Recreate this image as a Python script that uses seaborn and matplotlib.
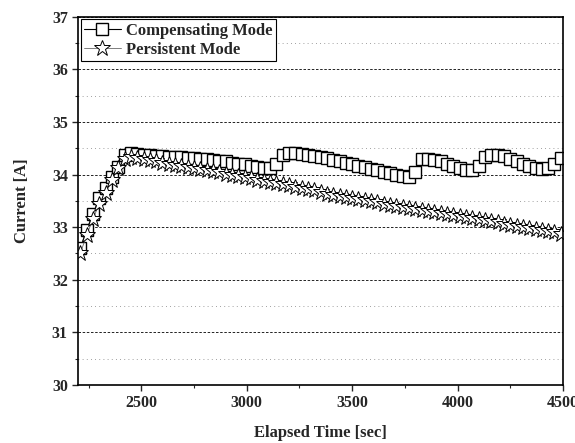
import matplotlib
matplotlib.use("Agg")
import matplotlib.pyplot as plt
import seaborn as sns
from matplotlib.ticker import MultipleLocator

# Dados
time_s = [2210, 2240, 2270, 2300, 2330, 2360, 2390, 2420, 2450, 2480,
          2510, 2540, 2570, 2600, 2630, 2660, 2690, 2720, 2750, 2780,
          2810, 2840, 2870, 2900, 2930, 2960, 2990, 3020, 3050, 3080,
          3110, 3140, 3170, 3200, 3230, 3260, 3290, 3320, 3350, 3380,
          3410, 3440, 3470, 3500, 3530, 3560, 3590, 3620, 3650, 3680,
          3710, 3740, 3770, 3800, 3830, 3860, 3890, 3920, 3950, 3980,
          4010, 4040, 4070, 4100, 4130, 4160, 4190, 4220, 4250, 4280,
          4310, 4340, 4370, 4400, 4430, 4460, 4490]

compensating = [32.6, 32.95, 33.25, 33.55, 33.75, 33.95, 34.15, 34.38, 34.42, 34.4,
                34.38, 34.37, 34.36, 34.35, 34.34, 34.33, 34.33, 34.32, 34.31, 34.3,
                34.29, 34.28, 34.26, 34.25, 34.23, 34.21, 34.2, 34.17, 34.15, 34.13,
                34.12, 34.2, 34.38, 34.42, 34.41, 34.4, 34.38, 34.36, 34.33, 34.31,
                34.28, 34.25, 34.23, 34.2, 34.17, 34.14, 34.11, 34.08, 34.05, 34.03,
                34.0, 33.97, 33.95, 34.05, 34.3, 34.3, 34.28, 34.25, 34.21, 34.17,
                34.13, 34.09, 34.08, 34.17, 34.33, 34.38, 34.38, 34.35, 34.3, 34.26,
                34.21, 34.17, 34.13, 34.1, 34.12, 34.2, 34.32]

persistent = [32.5, 32.85, 33.15, 33.45, 33.65, 33.9, 34.12, 34.3, 34.33, 34.31,
              34.29, 34.27, 34.25, 34.23, 34.21, 34.19, 34.17, 34.15, 34.13, 34.11,
              34.09, 34.07, 34.05, 34.02, 34.0, 33.97, 33.95, 33.93, 33.9, 33.88,
              33.86, 33.84, 33.82, 33.8, 33.77, 33.74, 33.72, 33.7, 33.67, 33.64,
              33.62, 33.6, 33.57, 33.55, 33.53, 33.51, 33.49, 33.47, 33.45, 33.43,
              33.41, 33.39, 33.37, 33.35, 33.32, 33.3, 33.28, 33.27, 33.25, 33.23,
              33.21, 33.19, 33.17, 33.15, 33.13, 33.11, 33.09, 33.07, 33.05, 33.03,
              33.01, 32.99, 32.97, 32.95, 32.93, 32.9, 32.88]

x_ticks = [2500, 3000, 3500, 4000, 4500]
y_ticks = [30, 31, 32, 33, 34, 35, 36, 37]

# Configurações iniciais
sns.set_style("ticks")
plt.rcParams["font.family"] = ["Liberation Serif", "DejaVu Serif"]
plt.rcParams["font.weight"] = "bold"

fig = plt.figure(figsize=(5.75, 4.43), dpi=100)
ax = fig.add_axes([0.136, 0.131, 0.843, 0.831])

sns.lineplot(x=time_s, y=compensating, ax=ax, color="black", linewidth=0.8,
             marker="s", markersize=9, markerfacecolor="white",
             markeredgecolor="black", markeredgewidth=1.0,
             label="Compensating Mode")
sns.lineplot(x=time_s, y=persistent, ax=ax, color="dimgray", linewidth=0.6,
             marker="*", markersize=12, markerfacecolor="white",
             markeredgecolor="black", markeredgewidth=0.7,
             label="Persistent Mode")

ax.set_xlim(2200, 4500)
ax.set_ylim(30, 37)
ax.set_xticks(x_ticks)
ax.set_yticks(y_ticks)
ax.xaxis.set_minor_locator(MultipleLocator(250))
ax.yaxis.set_minor_locator(MultipleLocator(0.5))

# Grade: linhas tracejadas nos inteiros, pontilhadas nos meios
ax.grid(which="major", axis="y", color="black", linestyle=(0, (3, 2)), linewidth=0.6)
ax.grid(which="minor", axis="y", color="gray", linestyle=(0, (1, 4)), linewidth=0.6)
ax.grid(which="major", axis="x", visible=False)

for spine in ax.spines.values():
    spine.set_visible(True)
    spine.set_color("black")
    spine.set_linewidth(1.2)

ax.tick_params(which="major", direction="out", length=4, width=1, labelsize=11.5)
ax.tick_params(which="minor", direction="out", length=2, width=0.8)
for lbl in ax.get_xticklabels() + ax.get_yticklabels():
    lbl.set_fontweight("bold")

ax.set_xlabel("Elapsed Time [sec]", fontsize=12, fontweight="bold", labelpad=10)
ax.set_ylabel("Current [A]", fontsize=12, fontweight="bold", labelpad=16)

leg = ax.legend(loc="upper left", borderaxespad=0.15, fancybox=False,
                framealpha=1, edgecolor="black", handlelength=2.2,
                handletextpad=0.3, borderpad=0.2, labelspacing=0.2,
                prop={"weight": "bold", "size": 12})
leg.get_frame().set_linewidth(0.8)

fig.savefig("out.png", dpi=100)
